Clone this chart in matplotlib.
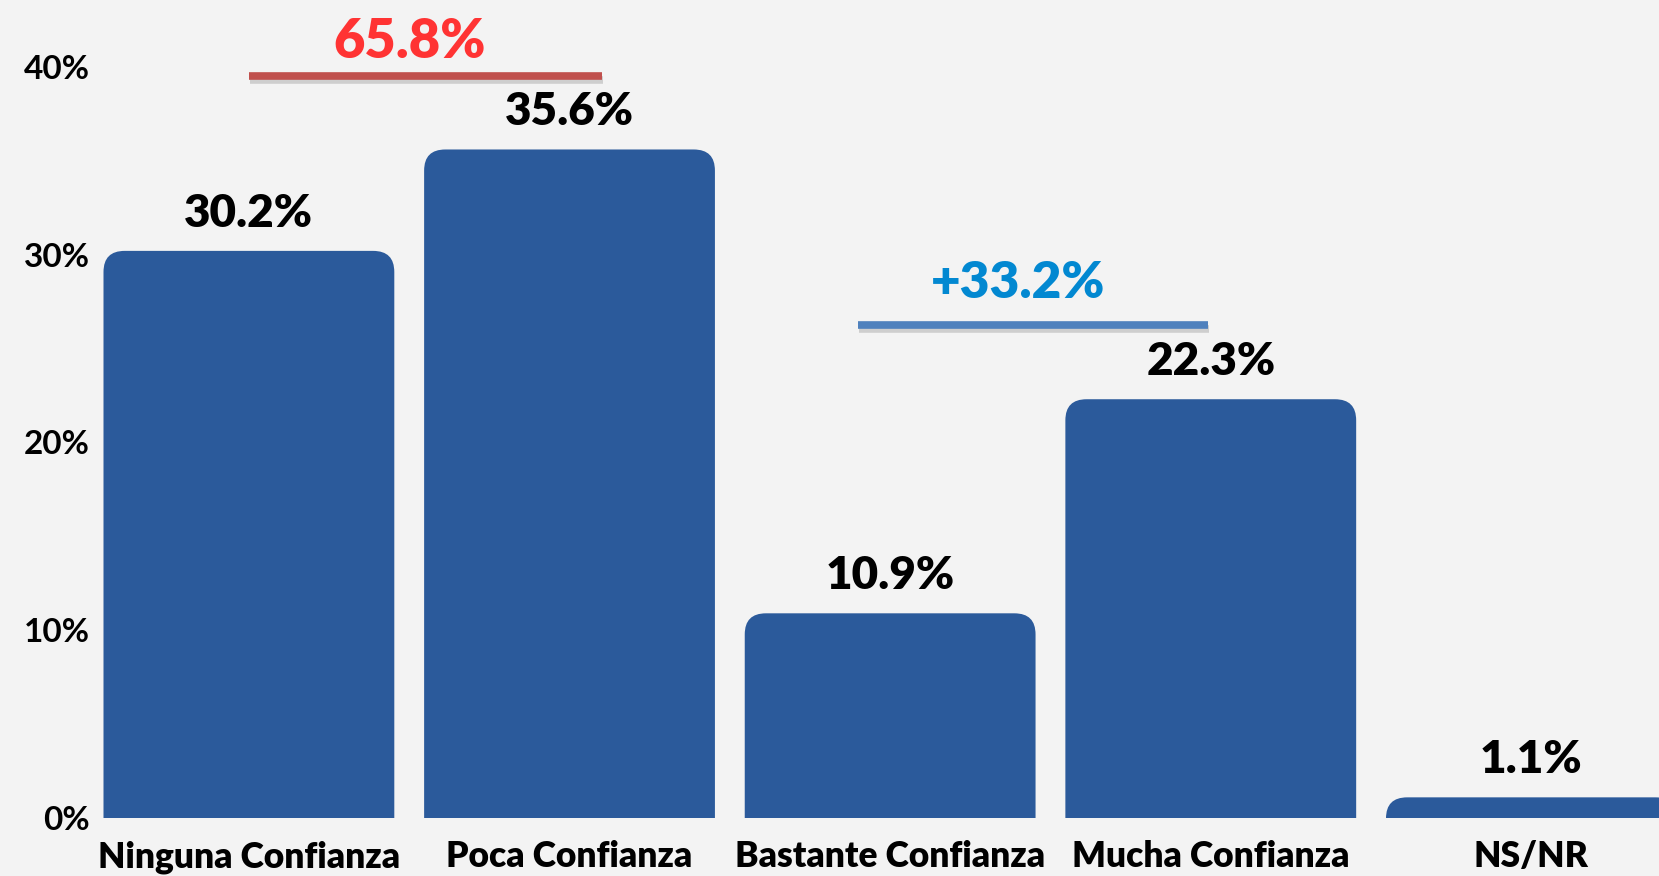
import matplotlib
matplotlib.use('Agg')
import matplotlib.pyplot as plt
import matplotlib.patheffects as pe
from matplotlib.patches import FancyBboxPatch
from matplotlib.ticker import FuncFormatter

categorias = ['Ninguna Confianza', 'Poca Confianza', 'Bastante Confianza', 'Mucha Confianza', 'NS/NR']
valores = [30.2, 35.6, 10.9, 22.3, 1.1]
etiquetas = ['30.2%', '35.6%', '10.9%', '22.3%', '1.1%']
yticks = [0, 10, 20, 30, 40]

plt.rcParams['font.family'] = ['Lato', 'DejaVu Sans']
plt.rcParams['font.weight'] = 'bold'

azul = '#2b5a9b'
fondo = '#f3f3f3'

fig = plt.figure(figsize=(16.59, 8.76), dpi=100, facecolor=fondo)
ax = fig.add_axes([95/1659, 58/876, 1 - 95/1659, 818/876])
ax.set_facecolor(fondo)

ancho = 0.907
rx = 0.066
aspecto = 17.0
for i, v in enumerate(valores):
    p = FancyBboxPatch((i - ancho/2, -5), ancho, v + 5,
                       boxstyle='round,pad=0,rounding_size=%f' % rx,
                       mutation_aspect=aspecto, fc=azul, ec='none')
    ax.add_patch(p)
    ax.text(i, v + 2.0, etiquetas[i], ha='center', va='center',
            fontsize=33, fontweight='heavy', color='black')

ax.set_xlim(-0.48, 4.398)
ax.set_ylim(0, 43.56)
ax.set_xticks(range(len(categorias)))
ax.set_xticklabels(categorias, fontweight='heavy')
ax.set_yticks(yticks)
ax.yaxis.set_major_formatter(FuncFormatter(lambda v, p: '%d%%' % v))
ax.tick_params(axis='both', length=0)
ax.tick_params(axis='x', pad=16, labelsize=25.5)
ax.tick_params(axis='y', pad=4, labelsize=24)
for s in ax.spines.values():
    s.set_visible(False)

sombra = [pe.SimpleLineShadow(offset=(1, -2.5), alpha=0.15), pe.Normal()]
ax.plot([0.0, 1.1], [39.5, 39.5], color='#c0504d', lw=5.5,
        solid_capstyle='butt', path_effects=sombra, clip_on=False)
ax.text(0.5, 41.3, '65.8%', ha='center', va='center', fontsize=39,
        fontweight='heavy', color='#ff3333')
ax.plot([1.9, 2.99], [26.25, 26.25], color='#4f81bd', lw=5.5,
        solid_capstyle='butt', path_effects=sombra)
ax.text(2.4, 28.5, '+33.2%', ha='center', va='center', fontsize=37,
        fontweight='heavy', color='#0288d1')

fig.savefig('out.png', dpi=100, facecolor=fondo)
